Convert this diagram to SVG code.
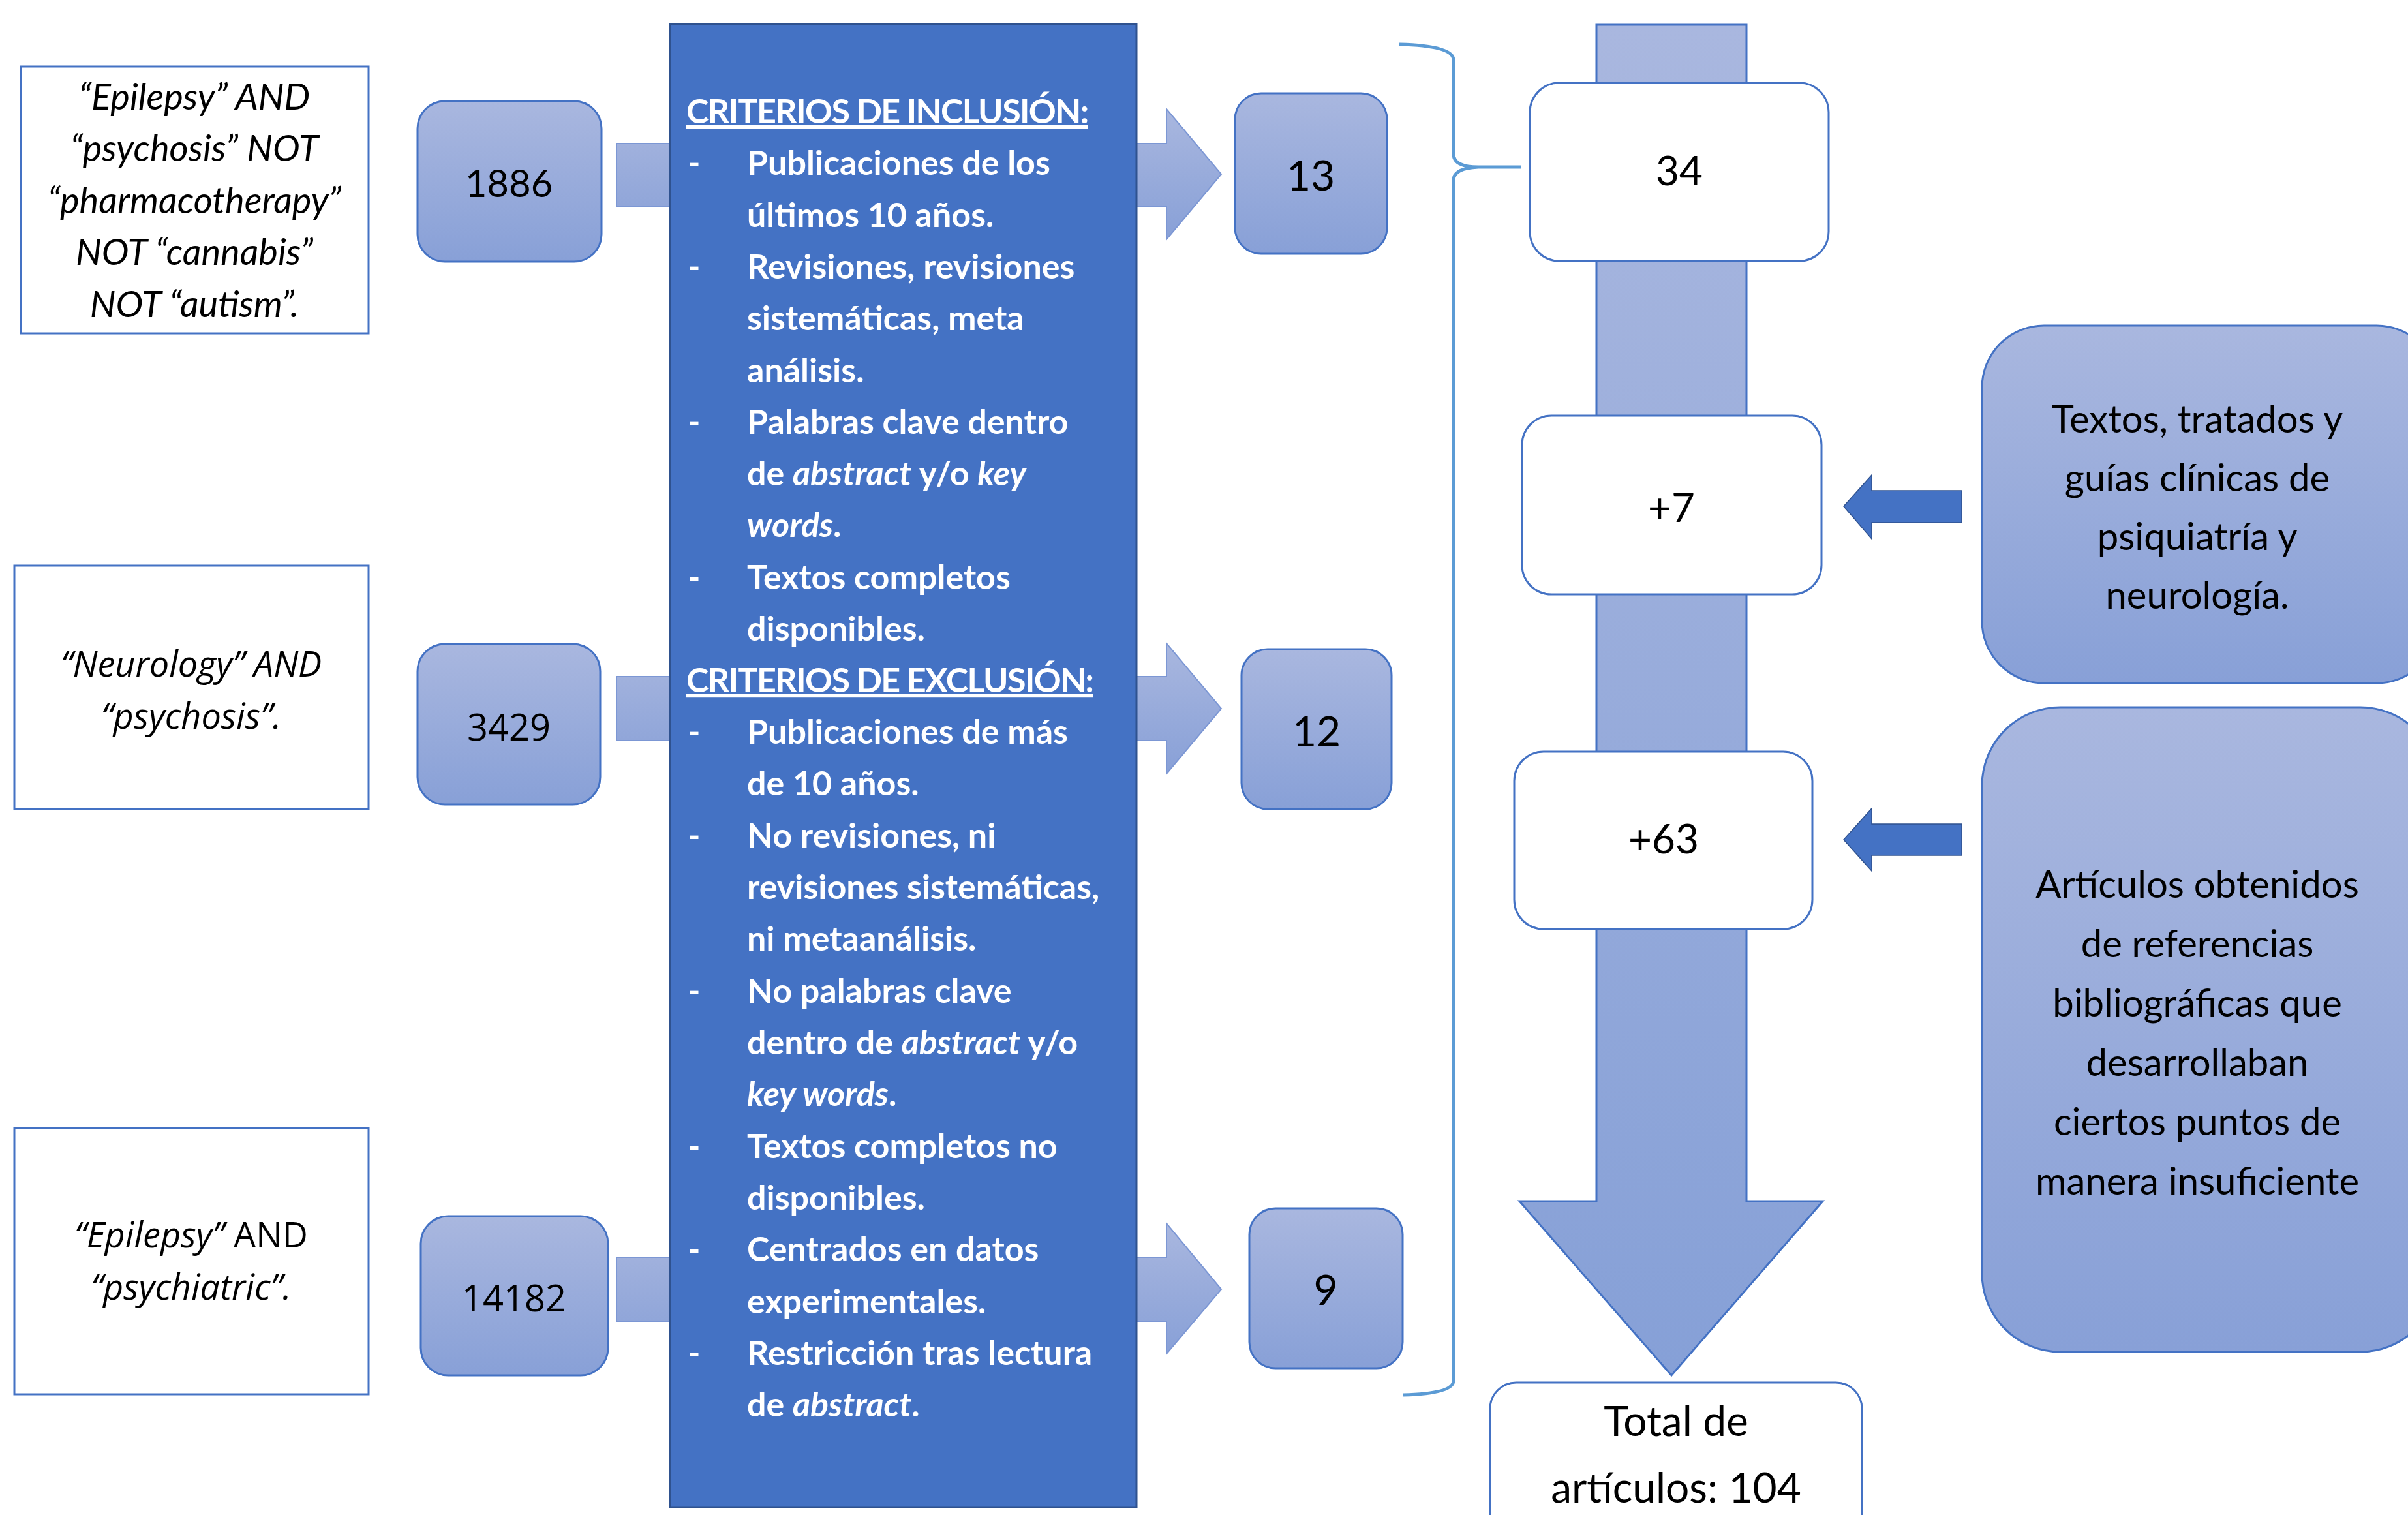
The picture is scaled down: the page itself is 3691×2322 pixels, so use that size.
<svg xmlns="http://www.w3.org/2000/svg" width="3691" height="2322" viewBox="0 0 3691 2322">
<defs>
<linearGradient id="g" x1="0" y1="0" x2="0" y2="1">
<stop offset="0" stop-color="#A9B7DF"/>
<stop offset="1" stop-color="#88A0D7"/>
</linearGradient>
<linearGradient id="gv" gradientUnits="userSpaceOnUse" x1="0" y1="38" x2="0" y2="2108">
<stop offset="0" stop-color="#A9B7DF"/>
<stop offset="1" stop-color="#86A0D7"/>
</linearGradient>
<style>
.q{fill:#fff;stroke:#4472C4;stroke-width:3}
.n{fill:url(#g);stroke:#4472C4;stroke-width:3}
.w{fill:#fff;stroke:#4472C4;stroke-width:3}
.ha{fill:url(#g);stroke:#7C97D4;stroke-width:2}
.la{fill:#4472C4;stroke:#2F528F;stroke-width:1.5}
.c{font-family:Lato,"Liberation Sans",sans-serif;fill:#000;text-anchor:middle}
.ci{font-family:Lato,"Liberation Sans",sans-serif;font-style:italic;fill:#000;text-anchor:middle;font-size:56px}
.s{font-family:"Open Sans","Liberation Sans",sans-serif;fill:#000;text-anchor:middle}
.b{font-family:Lato,"Liberation Sans",sans-serif;font-weight:bold;fill:#fff;font-size:52px}
.h{text-decoration:underline;letter-spacing:-1.6px}
</style>
</defs>
<g id="connectors">
<polygon class="ha" points="945,220 1788,220 1788,167 1872,267 1788,367 1788,316 945,316"/>
<polygon class="ha" points="945,1037 1788,1037 1788,986 1872,1086 1788,1186 1788,1135 945,1135"/>
<polygon class="ha" points="945,1927 1788,1927 1788,1875 1872,1976 1788,2075 1788,2025 945,2025"/>
<polygon fill="url(#gv)" stroke="#4472C4" stroke-width="3" points="2447,38 2677,38 2677,1841 2794,1841 2562,2108 2329,1841 2447,1841"/>
<polygon class="la" points="2826,776 2869,728 2869,752 3007,752 3007,801 2869,801 2869,826"/>
<polygon class="la" points="2826,1287 2869,1239 2869,1263 3007,1263 3007,1311 2869,1311 2869,1335"/>
<path d="M2145,68 Q2228,70 2228,92 L2228,236 Q2228,256 2266,256 Q2228,258 2228,276 L2228,2116 Q2228,2136 2151,2138 M2262,256 H2331" fill="none" stroke="#5B9BD5" stroke-width="5"/>
</g>
<g id="q1"><rect class="q" x="32" y="102" width="533" height="409"/>
<text class="ci"><tspan x="298" y="168">“Epilepsy” AND</tspan><tspan x="298" y="247">“psychosis” NOT</tspan><tspan x="298" y="327">“pharmacotherapy”</tspan><tspan x="298" y="406">NOT “cannabis”</tspan><tspan x="298" y="486">NOT “autism”.</tspan></text></g>
<g id="q2"><rect class="q" x="22" y="867" width="543" height="373"/>
<text class="s" font-size="54" font-style="italic"><tspan x="293" y="1037">“Neurology” AND</tspan><tspan x="293" y="1117">“psychosis”.</tspan></text></g>
<g id="q3"><rect class="q" x="22" y="1729" width="543" height="408"/>
<text class="s" font-size="54"><tspan x="293" y="1912"><tspan font-style="italic">“Epilepsy”</tspan> AND</tspan><tspan x="293" y="1992" font-style="italic">“psychiatric”.</tspan></text></g>
<g id="n1886"><rect class="n" x="640" y="155" width="282" height="246" rx="42"/><text class="c" x="780" y="302" font-size="58">1886</text></g>
<g id="n3429"><rect class="n" x="640" y="987" width="280" height="246" rx="42"/><text class="s" x="780" y="1135" font-size="56">3429</text></g>
<g id="n14182"><rect class="n" x="645" y="1864" width="287" height="244" rx="42"/><text class="s" x="788" y="2010" font-size="56">14182</text></g>
<g id="criterios">
<rect x="1027" y="37" width="715" height="2273" fill="#4472C4" stroke="#2F528F" stroke-width="3"/>
<text class="b">
<tspan class="h" x="1052" y="189">CRITERIOS DE INCLUSIÓN:</tspan>
<tspan x="1054" y="268">-</tspan><tspan x="1145" y="268">Publicaciones de los</tspan>
<tspan x="1145" y="348">últimos 10 años.</tspan>
<tspan x="1054" y="427">-</tspan><tspan x="1145" y="427">Revisiones, revisiones</tspan>
<tspan x="1145" y="506">sistemáticas, meta</tspan>
<tspan x="1145" y="586">análisis.</tspan>
<tspan x="1054" y="665">-</tspan><tspan x="1145" y="665">Palabras clave dentro</tspan>
<tspan x="1145" y="744">de <tspan font-style="italic">abstract</tspan> y/o <tspan font-style="italic">key</tspan></tspan>
<tspan x="1145" y="823"><tspan font-style="italic">words</tspan>.</tspan>
<tspan x="1054" y="903">-</tspan><tspan x="1145" y="903">Textos completos</tspan>
<tspan x="1145" y="982">disponibles.</tspan>
<tspan class="h" x="1052" y="1061">CRITERIOS DE EXCLUSIÓN:</tspan>
<tspan x="1054" y="1140">-</tspan><tspan x="1145" y="1140">Publicaciones de más</tspan>
<tspan x="1145" y="1219">de 10 años.</tspan>
<tspan x="1054" y="1299">-</tspan><tspan x="1145" y="1299">No revisiones, ni</tspan>
<tspan x="1145" y="1378">revisiones sistemáticas,</tspan>
<tspan x="1145" y="1457">ni metaanálisis.</tspan>
<tspan x="1054" y="1537">-</tspan><tspan x="1145" y="1537">No palabras clave</tspan>
<tspan x="1145" y="1616">dentro de <tspan font-style="italic">abstract</tspan> y/o</tspan>
<tspan x="1145" y="1695"><tspan font-style="italic">key words</tspan>.</tspan>
<tspan x="1054" y="1775">-</tspan><tspan x="1145" y="1775">Textos completos no</tspan>
<tspan x="1145" y="1854">disponibles.</tspan>
<tspan x="1054" y="1933">-</tspan><tspan x="1145" y="1933">Centrados en datos</tspan>
<tspan x="1145" y="2013">experimentales.</tspan>
<tspan x="1054" y="2092">-</tspan><tspan x="1145" y="2092">Restricción tras lectura</tspan>
<tspan x="1145" y="2171">de <tspan font-style="italic">abstract</tspan>.</tspan>
</text></g>
<g id="n13"><rect class="n" x="1893" y="143" width="233" height="246" rx="40"/><text class="c" x="2009" y="292" font-size="64">13</text></g>
<g id="n12"><rect class="n" x="1903" y="995" width="230" height="245" rx="40"/><text class="c" x="2018" y="1144" font-size="64">12</text></g>
<g id="n9"><rect class="n" x="1915" y="1852" width="235" height="245" rx="40"/><text class="c" x="2032" y="2000" font-size="64">9</text></g>
<g id="n34"><rect class="w" x="2345" y="127" width="458" height="273" rx="45"/><text class="c" x="2574" y="284" font-size="62">34</text></g>
<g id="n7"><rect class="w" x="2333" y="637" width="459" height="274" rx="45"/><text class="c" x="2562" y="800" font-size="62">+7</text></g>
<g id="n63"><rect class="w" x="2321" y="1152" width="457" height="272" rx="45"/><text class="c" x="2550" y="1308" font-size="62">+63</text></g>
<g id="textos"><rect class="n" x="3038" y="499" width="700" height="548" rx="95"/>
<text class="c" font-size="58"><tspan x="3368" y="663">Textos, tratados y</tspan><tspan x="3368" y="753">guías clínicas de</tspan><tspan x="3368" y="843">psiquiatría y</tspan><tspan x="3368" y="933">neurología.</tspan></text></g>
<g id="articulos"><rect class="n" x="3038" y="1084" width="700" height="988" rx="120"/>
<text class="c" font-size="58"><tspan x="3368" y="1376">Artículos obtenidos</tspan><tspan x="3368" y="1467">de referencias</tspan><tspan x="3368" y="1558">bibliográficas que</tspan><tspan x="3368" y="1649">desarrollaban</tspan><tspan x="3368" y="1740">ciertos puntos de</tspan><tspan x="3368" y="1831">manera insuficiente</tspan></text></g>
<g id="total"><rect class="w" x="2284" y="2119" width="570" height="240" rx="40"/>
<text class="c" font-size="64"><tspan x="2569" y="2201">Total de</tspan><tspan x="2569" y="2303">artículos: 104</tspan></text></g>
</svg>
